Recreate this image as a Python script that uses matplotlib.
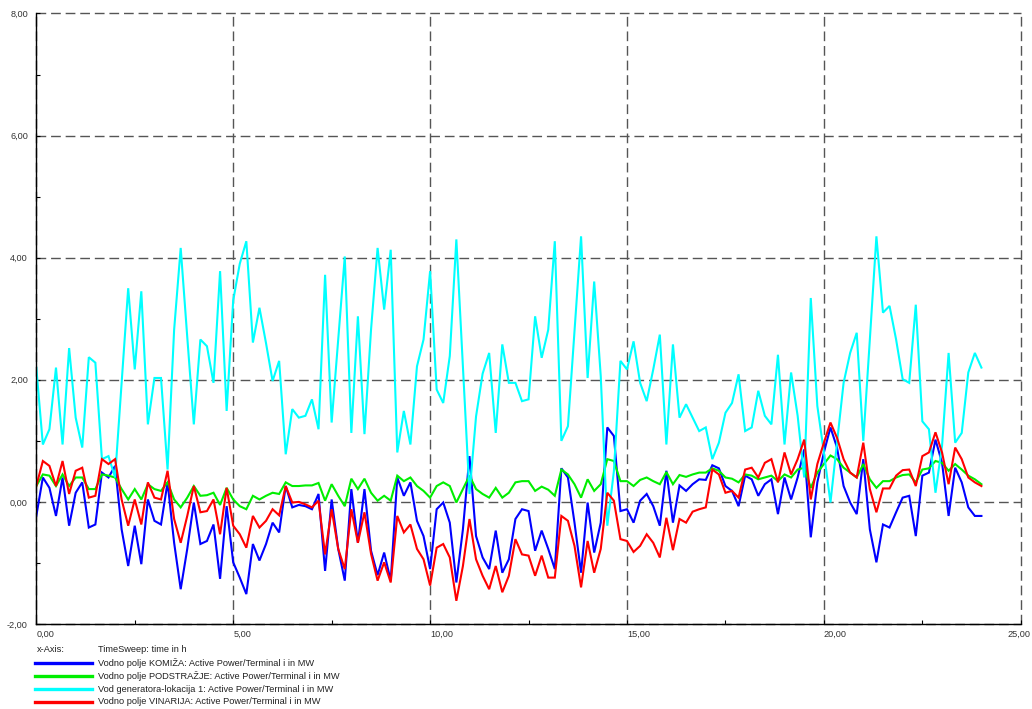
import numpy as np
import matplotlib
matplotlib.use("Agg")
import matplotlib.pyplot as plt
import matplotlib.transforms as mtransforms
from matplotlib.lines import Line2D
from matplotlib.ticker import MultipleLocator, FuncFormatter

plt.rcParams['font.family'] = ['Liberation Sans', 'DejaVu Sans']

# time axis: 10-minute steps over 24 h
time_h = np.arange(0, 145) / 6.0

komiza = [-0.23, 0.40, 0.23, -0.23, 0.40, -0.39, 0.15, 0.32, -0.42, -0.37,
          0.48, 0.40, 0.59, -0.45, -1.05, -0.39, -1.02, 0.04, -0.31, -0.37,
          0.32, -0.67, -1.43, -0.77, -0.01, -0.69, -0.64, -0.37, -1.26, -0.07,
          -0.99, -1.24, -1.51, -0.69, -0.96, -0.69, -0.34, -0.50, 0.26, -0.09,
          -0.05, -0.07, -0.12, 0.13, -1.13, 0.04, -0.77, -1.29, 0.21, -0.67,
          0.21, -0.80, -1.20, -0.83, -1.29, 0.40, 0.10, 0.32, -0.31, -0.56,
          -1.10, -0.12, -0.01, -0.34, -1.32, -0.45, 0.75, -0.56, -0.91, -1.10,
          -0.47, -1.16, -0.94, -0.28, -0.12, -0.15, -0.80, -0.47, -0.77, -1.10,
          0.55, 0.40, -0.34, -1.16, -0.01, -0.83, -0.34, 1.22, 1.08, -0.15,
          -0.12, -0.34, 0.02, 0.13, -0.07, -0.39, 0.51, -0.34, 0.27, 0.18,
          0.29, 0.37, 0.36, 0.60, 0.55, 0.26, 0.18, -0.07, 0.43, 0.37,
          0.10, 0.29, 0.37, -0.20, 0.40, 0.04, 0.40, 0.86, -0.58, 0.32,
          0.81, 1.22, 0.89, 0.26, -0.01, -0.20, 0.70, -0.45, -0.99, -0.37,
          -0.42, -0.17, 0.07, 0.10, -0.56, 0.43, 0.48, 1.02, 0.64, -0.23,
          0.56, 0.32, -0.09, -0.23, -0.23]

podstrazje = [0.26, 0.45, 0.43, 0.26, 0.45, 0.26, 0.40, 0.40, 0.21, 0.21,
              0.45, 0.43, 0.40, 0.21, 0.04, 0.21, 0.04, 0.29, 0.21, 0.18,
              0.32, 0.04, -0.09, 0.07, 0.26, 0.10, 0.11, 0.15, -0.05, 0.23,
              0.04, -0.07, -0.12, 0.10, 0.04, 0.10, 0.15, 0.13, 0.32, 0.26,
              0.26, 0.27, 0.27, 0.31, 0.02, 0.29, 0.10, -0.07, 0.38, 0.21,
              0.38, 0.15, 0.02, 0.10, 0.02, 0.43, 0.34, 0.40, 0.26, 0.18,
              0.07, 0.26, 0.32, 0.26, -0.01, 0.21, 0.43, 0.21, 0.13, 0.07,
              0.23, 0.07, 0.15, 0.32, 0.34, 0.34, 0.18, 0.25, 0.20, 0.10,
              0.53, 0.45, 0.29, 0.07, 0.37, 0.18, 0.29, 0.70, 0.67, 0.34,
              0.34, 0.26, 0.36, 0.40, 0.34, 0.29, 0.49, 0.29, 0.44, 0.41,
              0.45, 0.48, 0.48, 0.55, 0.51, 0.40, 0.38, 0.32, 0.45, 0.43,
              0.37, 0.40, 0.43, 0.34, 0.45, 0.40, 0.53, 0.56, 0.23, 0.48,
              0.62, 0.76, 0.70, 0.56, 0.48, 0.40, 0.62, 0.37, 0.23, 0.34,
              0.34, 0.40, 0.44, 0.45, 0.32, 0.53, 0.55, 0.67, 0.64, 0.51,
              0.62, 0.53, 0.43, 0.37, 0.29]

generator1 = [2.20, 0.94, 1.19, 2.20, 0.94, 2.52, 1.38, 0.89, 2.37, 2.28,
              0.70, 0.75, 0.40, 1.95, 3.50, 2.17, 3.45, 1.27, 2.03, 2.03,
              0.53, 2.82, 4.16, 2.70, 1.27, 2.66, 2.55, 1.95, 3.78, 1.49,
              3.30, 3.90, 4.27, 2.61, 3.18, 2.60, 1.98, 2.31, 0.78, 1.52,
              1.38, 1.41, 1.68, 1.19, 3.72, 1.30, 2.66, 4.02, 1.13, 3.04,
              1.11, 2.82, 4.16, 3.15, 4.13, 0.81, 1.49, 0.94, 2.22, 2.66,
              3.78, 1.84, 1.62, 2.39, 4.30, 2.22, 0.13, 1.40, 2.10, 2.44,
              1.13, 2.58, 1.95, 1.95, 1.65, 1.68, 3.04, 2.36, 2.82, 4.27,
              1.00, 1.24, 2.80, 4.35, 2.03, 3.61, 2.06, -0.39, 0.50, 2.31,
              2.17, 2.63, 1.95, 1.65, 2.17, 2.74, 0.94, 2.58, 1.38, 1.60,
              1.38, 1.16, 1.22, 0.70, 0.97, 1.46, 1.62, 2.09, 1.16, 1.22,
              1.82, 1.41, 1.27, 2.41, 0.94, 2.12, 1.41, 0.40, 3.34, 1.57,
              0.81, -0.01, 0.97, 1.95, 2.44, 2.77, 1.00, 2.66, 4.35, 3.10,
              3.21, 2.66, 2.01, 1.95, 3.23, 1.32, 1.19, 0.15, 0.92, 2.44,
              0.97, 1.13, 2.12, 2.44, 2.20]

vinarija = [0.26, 0.67, 0.59, 0.26, 0.67, 0.13, 0.51, 0.56, 0.07, 0.10,
            0.70, 0.62, 0.70, 0.04, -0.39, 0.04, -0.37, 0.32, 0.07, 0.04,
            0.51, -0.28, -0.67, -0.23, 0.26, -0.17, -0.15, 0.04, -0.53, 0.23,
            -0.39, -0.53, -0.75, -0.23, -0.42, -0.31, -0.12, -0.22, 0.26, -0.01,
            0.00, -0.04, -0.09, 0.02, -0.86, -0.12, -0.77, -1.10, -0.12, -0.67,
            -0.17, -0.85, -1.29, -0.99, -1.32, -0.23, -0.50, -0.37, -0.77, -0.94,
            -1.37, -0.75, -0.69, -0.91, -1.62, -1.05, -0.28, -0.94, -1.21, -1.43,
            -1.05, -1.48, -1.21, -0.61, -0.86, -0.88, -1.21, -0.88, -1.24, -1.24,
            -0.23, -0.31, -0.72, -1.40, -0.64, -1.16, -0.77, 0.15, 0.02, -0.61,
            -0.64, -0.82, -0.72, -0.53, -0.67, -0.91, -0.26, -0.79, -0.28, -0.34,
            -0.16, -0.12, -0.09, 0.53, 0.45, 0.15, 0.18, 0.07, 0.53, 0.56,
            0.40, 0.64, 0.70, 0.32, 0.81, 0.45, 0.70, 1.02, 0.04, 0.62,
            0.97, 1.30, 1.05, 0.70, 0.48, 0.40, 0.97, 0.21, -0.17, 0.22,
            0.22, 0.43, 0.52, 0.53, 0.26, 0.75, 0.81, 1.14, 0.81, 0.29,
            0.89, 0.70, 0.40, 0.32, 0.26]

series_labels = [
    "Vodno polje KOMIŽA: Active Power/Terminal i in MW",
    "Vodno polje PODSTRAŽJE: Active Power/Terminal i in MW",
    "Vod generatora-lokacija 1: Active Power/Terminal i in MW",
    "Vodno polje VINARIJA: Active Power/Terminal i in MW",
]
series_colors = ["#0000ff", "#00ee00", "#00ffff", "#ff0000"]
series_values = [komiza, podstrazje, generator1, vinarija]

W, H = 1032, 709
fig = plt.figure(figsize=(W / 100, H / 100), dpi=100)
left_px, right_px, top_px, bottom_px = 36.3, 1020.8, 13.5, 624.0
ax = fig.add_axes([left_px / W, 1 - bottom_px / H,
                   (right_px - left_px) / W, (bottom_px - top_px) / H])

for vals, col in zip(series_values, series_colors):
    ax.plot(time_h, vals, color=col, lw=1.5, solid_joinstyle='miter')

ax.set_xlim(0, 25)
ax.set_ylim(-2, 8)
ax.xaxis.set_major_locator(MultipleLocator(5))
ax.xaxis.set_minor_locator(MultipleLocator(2.5))
ax.yaxis.set_major_locator(MultipleLocator(2))
ax.yaxis.set_minor_locator(MultipleLocator(1))
fmt = FuncFormatter(lambda v, p: f"{v:.2f}".replace('.', ','))
ax.xaxis.set_major_formatter(fmt)
ax.yaxis.set_major_formatter(fmt)

ax.grid(True, which='major', color='#555555', lw=1.0, linestyle=(0, (7, 3.5)))
for s in ['top', 'right']:
    ax.spines[s].set_visible(False)
for s in ['left', 'bottom']:
    ax.spines[s].set_color('black')
    ax.spines[s].set_linewidth(1.0)
    ax.spines[s].set_zorder(5)

ax.tick_params(which='both', direction='in', color='black', width=0.8,
               labelsize=6.6, labelcolor='#333333')
ax.tick_params(which='major', length=3)
ax.tick_params(which='minor', length=3)
ax.tick_params(axis='y', pad=6)
ax.tick_params(axis='x', pad=4)

fig.canvas.draw()
for gl in ax.get_xgridlines() + ax.get_ygridlines():
    gl.set_clip_on(False)
xlabels = ax.get_xticklabels()
for lab in xlabels:
    lab.set_horizontalalignment('left')
last = [l for l in xlabels if l.get_text() == "25,00"]
for lab in last:
    lab.set_horizontalalignment('right')
    lab.set_transform(lab.get_transform() +
                      mtransforms.ScaledTranslation(10 / 100, 0, fig.dpi_scale_trans))

# legend block
fs = 6.65
fig.text(37 / W, 1 - 650 / H, "x-Axis:", fontsize=fs, va='center', ha='left', color='#222222')
fig.text(98 / W, 1 - 650 / H, "TimeSweep: time in h", fontsize=fs, va='center', ha='left', color='#222222')
rows_y = [662.7, 675.8, 689.0, 702.0]
for ypx, lab, col in zip(rows_y, series_labels, series_colors):
    fig.add_artist(Line2D([35 / W, 92 / W], [1 - ypx / H, 1 - ypx / H],
                          color=col, lw=2.4, transform=fig.transFigure))
    fig.text(98 / W, 1 - ypx / H, lab, fontsize=fs, va='center', ha='left', color='#222222')

fig.savefig("out.png", dpi=100)
